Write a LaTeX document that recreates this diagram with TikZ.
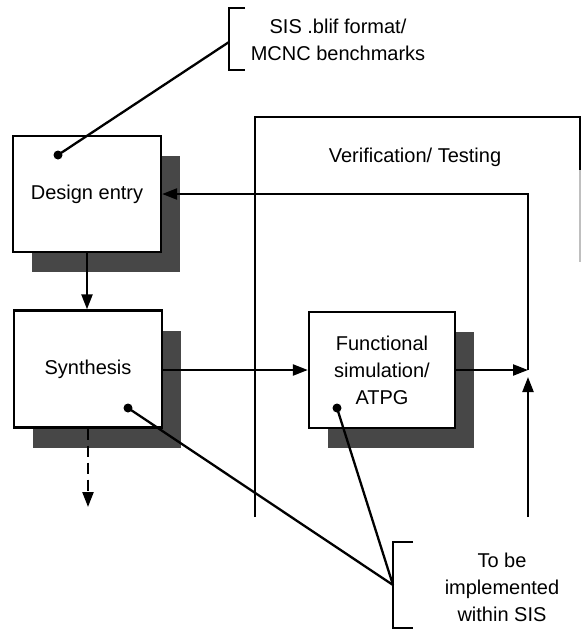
\documentclass[tikz,border=0pt]{standalone}
\usepackage{fontspec}
\setmainfont{Liberation Sans}
\usetikzlibrary{arrows.meta,shadows}
\begin{document}
\begin{tikzpicture}[x=1pt,y=-1pt,
  every node/.style={font=\fontsize{20}{27}\selectfont, text=black},
  stage/.style={draw, line width=2.3pt, fill=white, align=center,
    drop shadow={shadow xshift=19pt, shadow yshift=-20pt, fill=black!72, opacity=1}},
  link/.style={line width=2.3pt},
  arr/.style={link, -{Triangle[length=15pt,width=11pt]}},
  dot/.style={fill=black},
  note/.style={align=center}]
\useasboundingbox (0,0) rectangle (581,630);

% verification / testing frame
\draw[link] (255,517) -- (255,117) -- (580,117) -- (580,170);
\draw[line width=1.2pt, black!25] (580,170) -- (580,262);
\node (vt) at (415,157) {Verification/ Testing};

% design flow stages
\node[stage, minimum width=148pt, minimum height=116pt] (de) at (87,194) {Design entry};
\node[stage, minimum width=148pt, minimum height=117pt] (syn) at (88,369) {Synthesis};
\node[stage, minimum width=146pt, minimum height=116pt] (fs) at (382,370) {Functional\\simulation/\\ATPG};

% junction and feedback points
\coordinate (j) at (528,370);
\coordinate (jt) at (528,194);
\coordinate (ju) at (528,377);
\coordinate (jb) at (528,517);
\coordinate (dashend) at (88,507);

% connectors
\draw[arr] (de.south) -- (de.south |- syn.north);
\draw[arr] (syn.east |- fs.west) -- (fs.west);
\draw[arr] (fs.east) -- (j);
\draw[arr] (j) -- (jt) -- (de.east);
\draw[arr] (jb) -- (ju);
\draw[arr, dash pattern=on 11pt off 6pt] (syn.south) -- (dashend);

% annotation: input format
\coordinate (sisb) at (229,42);
\draw[link] (245,8) -- (229,8) -- (229,70) -- (245,70);
\node[note] (sis) at (338,40) {SIS .blif format/\\MCNC benchmarks};
\coordinate (dde) at (58,155);
\fill[dot] (dde) circle (4.5pt);
\draw[link] (dde) -- (sisb);

% annotation: to be implemented
\coordinate (tbb) at (393,585);
\draw[link] (413,542) -- (393,542) -- (393,628) -- (413,628);
\node[note] (tobe) at (502,587) {To be\\implemented\\within SIS};
\coordinate (dsyn) at (128,408);
\coordinate (dfs) at (337,408);
\fill[dot] (dsyn) circle (4.5pt);
\fill[dot] (dfs) circle (4.5pt);
\draw[link] (dsyn) -- (tbb);
\draw[link] (dfs) -- (tbb);
\end{tikzpicture}
\end{document}
